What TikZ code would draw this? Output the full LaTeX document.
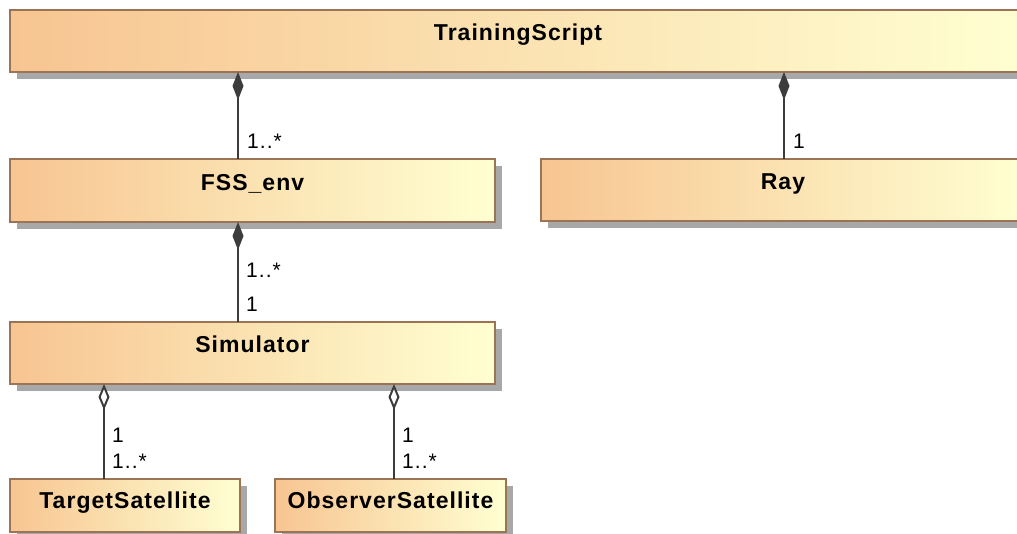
\documentclass[tikz,border=0pt]{standalone}
\usepackage{fontspec}
\setmainfont{Liberation Sans}
\newfontfamily\clsfont{Liberation Sans}[LetterSpace=4.5]
\newfontfamily\multfont{Liberation Sans}[LetterSpace=5]
\usetikzlibrary{arrows.meta,shadows}

\definecolor{clsL}{RGB}{247,197,145}
\definecolor{clsR}{RGB}{255,255,210}
\definecolor{clsBorder}{RGB}{155,115,85}
\definecolor{linkGray}{RGB}{60,60,60}
\definecolor{shadowGray}{RGB}{168,168,168}

\tikzset{
  umlclass/.style={
    draw=clsBorder, line width=1.5pt, left color=clsL, right color=clsR,
    anchor=north west, inner xsep=0pt, inner ysep=0pt, outer sep=0pt,
    font=\clsfont\bfseries\fontsize{23}{27}\selectfont, align=center,
    drop shadow={shadow xshift=7pt, shadow yshift=-7pt, fill=shadowGray, opacity=1}
  },
  mult/.style={anchor=base west, inner sep=0pt, font=\multfont\fontsize{21}{25}\selectfont},
  composite/.style={draw=linkGray, line width=2pt,
    -{Diamond[length=28pt,width=11pt,fill=linkGray]}},
  shared/.style={draw=linkGray, line width=2pt,
    -{Diamond[length=26pt,width=11pt,fill=white]}}
}

\begin{document}
\begin{tikzpicture}[x=1pt,y=-1pt]
  \useasboundingbox (0,0) rectangle (1017,534);
  \clip (0,0) rectangle (1017,534);
  \fill[white] (0,0) rectangle (1017,534);

  % classes: width = right - left, text height = baseline - top, text depth = bottom - baseline
  \node[umlclass, minimum width=1016pt, text height=31pt, text depth=31pt] (ts)  at (10,10)  {TrainingScript};
  \node[umlclass, minimum width=485pt,  text height=32pt, text depth=31pt] (fss) at (10,159) {FSS\_env};
  \node[umlclass, minimum width=484pt,  text height=31pt, text depth=31pt] (ray) at (541,159) {Ray};
  \node[umlclass, minimum width=485pt,  text height=31pt, text depth=31pt] (sim) at (10,322) {Simulator};
  \node[umlclass, minimum width=230pt,  text height=29pt, text depth=24pt] (tgt) at (10,479) {TargetSatellite};
  \node[umlclass, minimum width=231pt,  text height=29pt, text depth=24pt] (obs) at (275,479) {ObserverSatellite};

  % x positions of the association lines
  \coordinate (xa) at (238,0);
  \coordinate (xb) at (784,0);
  \coordinate (xc) at (104,0);
  \coordinate (xd) at (394,0);

  % compositions
  \draw[composite] (fss.north -| xa) -- (ts.south -| xa);
  \draw[composite] (ray.north -| xb) -- (ts.south -| xb);
  \draw[composite] (sim.north -| xa) -- (fss.south -| xa);
  % aggregations
  \draw[shared] (tgt.north -| xc) -- (sim.south -| xc);
  \draw[shared] (obs.north -| xd) -- (sim.south -| xd);

  % multiplicities
  \node[mult] (m1) at (247,149) {1..*};
  \node[mult] (m2) at (793,149) {1};
  \node[mult] (m3) at (246,278) {1..*};
  \node[mult] (m4) at (246,312) {1};
  \node[mult] (m5) at (112,442) {1};
  \node[mult] (m6) at (112,468) {1..*};
  \node[mult] (m7) at (402,442) {1};
  \node[mult] (m8) at (402,468) {1..*};
\end{tikzpicture}
\end{document}
